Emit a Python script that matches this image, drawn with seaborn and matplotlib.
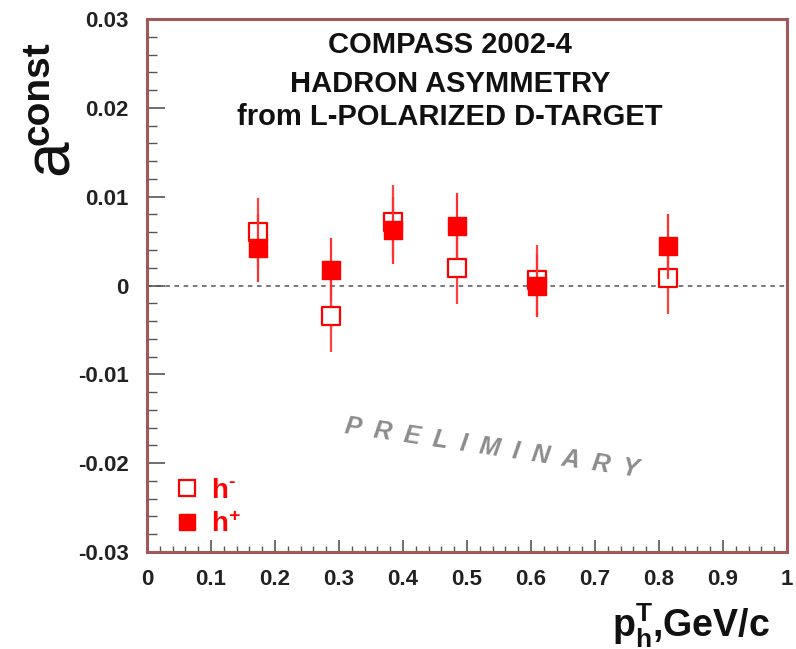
import matplotlib
matplotlib.use("Agg")
import matplotlib.pyplot as plt
from matplotlib.lines import Line2D
from matplotlib.ticker import MultipleLocator, FixedLocator
import seaborn as sns
import pandas as pd

# ---- data ----
pt_values = [0.174, 0.288, 0.384, 0.484, 0.610, 0.814]
h_minus = [0.0060, -0.0034, 0.0072, 0.0020, 0.0006, 0.0008]
h_minus_err = [0.0039, 0.0041, 0.0041, 0.0041, 0.0040, 0.0040]
h_plus = [0.0042, 0.0018, 0.0062, 0.0067, 0.0000, 0.0044]
h_plus_err = [0.0038, 0.0036, 0.0038, 0.0037, 0.0036, 0.0037]
x_ticks = [0, 0.1, 0.2, 0.3, 0.4, 0.5, 0.6, 0.7, 0.8, 0.9, 1]
x_ticklabels = ["0", "0.1", "0.2", "0.3", "0.4", "0.5", "0.6", "0.7", "0.8", "0.9", "1"]
y_ticks = [-0.03, -0.02, -0.01, 0, 0.01, 0.02, 0.03]
y_ticklabels = ["-0.03", "-0.02", "-0.01", "0", "0.01", "0.02", "0.03"]
title_lines = ["COMPASS 2002-4", "HADRON ASYMMETRY", "from L-POLARIZED D-TARGET"]

sns.set_theme(style="white")
plt.rcParams["font.family"] = ["Liberation Sans", "DejaVu Sans"]
plt.rcParams["mathtext.fontset"] = "custom"
plt.rcParams["mathtext.bf"] = "Liberation Sans:bold"
plt.rcParams["mathtext.rm"] = "Liberation Sans:bold"
plt.rcParams["mathtext.it"] = "Liberation Sans:bold"

RED = "#ff0000"
SPINE = "#a05858"
TICK = "#555555"

fig = plt.figure(figsize=(7.96, 6.49), dpi=100)
L, R, T, B = 147, 787, 19, 552
ax = fig.add_axes([L / 796, 1 - B / 649, (R - L) / 796, (B - T) / 649])

df_m = pd.DataFrame({"pt": pt_values, "a": h_minus, "err": h_minus_err})
df_p = pd.DataFrame({"pt": pt_values, "a": h_plus, "err": h_plus_err})

ax.axhline(0, color="#555555", lw=1.1, ls=(0, (3, 3)), zorder=1)

# h- (open)
ax.errorbar(df_m["pt"], df_m["a"], yerr=df_m["err"], fmt="none",
            ecolor="#ff4040", elinewidth=1.6, capsize=0, zorder=2)
sns.scatterplot(data=df_m, x="pt", y="a", ax=ax, marker="s", s=150,
                facecolor="white", edgecolor=RED, linewidth=1.6, zorder=3,
                legend=False)
# h+ (filled)
ax.errorbar(df_p["pt"], df_p["a"], yerr=df_p["err"], fmt="none",
            ecolor="#ff3030", elinewidth=1.6, capsize=0, zorder=4)
sns.scatterplot(data=df_p, x="pt", y="a", ax=ax, marker="s", s=150,
                color=RED, edgecolor=RED, linewidth=1.0, zorder=5,
                legend=False)

ax.set_xlim(0, 1)
ax.set_ylim(-0.03, 0.03)
ax.xaxis.set_major_locator(FixedLocator(x_ticks))
ax.set_xticklabels(x_ticklabels)
ax.yaxis.set_major_locator(FixedLocator(y_ticks))
ax.set_yticklabels(y_ticklabels)
ax.xaxis.set_minor_locator(MultipleLocator(0.02))
ax.yaxis.set_minor_locator(MultipleLocator(0.002))

ax.tick_params(axis="x", which="major", direction="in", length=9, width=1.2,
               color=TICK, pad=12, labelsize=16, top=False, bottom=True)
ax.tick_params(axis="x", which="minor", direction="in", length=4.5, width=1.0,
               color=TICK, top=False, bottom=True)
ax.tick_params(axis="y", which="major", direction="in", length=13, width=1.2,
               color=TICK, pad=13, labelsize=16, right=False, left=True)
ax.tick_params(axis="y", which="minor", direction="in", length=7, width=1.0,
               color=TICK, right=False, left=True)
for lab in ax.get_xticklabels() + ax.get_yticklabels():
    lab.set_fontweight("bold")
    lab.set_color("#222222")

for sp in ax.spines.values():
    sp.set_visible(True)
    sp.set_color(SPINE)
    sp.set_linewidth(2.2)

ax.set_xlabel("")
ax.set_ylabel("")

# title block
for txt, yf in zip(title_lines, [0.951, 0.878, 0.816]):
    ax.text(0.473, yf, txt, transform=ax.transAxes, ha="center", va="center",
            fontsize=21, fontweight="bold", color="#111111")

# preliminary stamp
ax.text(0.539, 0.195, "\u2002".join("PRELIMINARY"), transform=ax.transAxes,
        ha="center", va="center", rotation=-8.5, fontsize=18,
        fontweight="bold", style="italic", color="#8c8c8c")

# legend
handles = [
    Line2D([], [], marker="s", ls="none", markersize=12, markerfacecolor="white",
           markeredgecolor=RED, markeredgewidth=1.6),
    Line2D([], [], marker="s", ls="none", markersize=12, markerfacecolor=RED,
           markeredgecolor=RED),
]
leg = ax.legend(handles, [r"$\mathbf{h}^{\text{-}}$", r"$\mathbf{h}^{\mathbf{+}}$"],
                loc="lower left", bbox_to_anchor=(0.015, -0.005), frameon=False,
                fontsize=20, labelcolor=RED, handlelength=1.0,
                handletextpad=0.35, labelspacing=0.3, borderaxespad=0.2)

# y label: a^const
fig.text(51 / 796, 1 - 157 / 649, "a", rotation=90, ha="center", va="center",
         fontsize=46, color="#111111")
fig.text(38 / 796, 1 - 93 / 649, "const", rotation=90, ha="center", va="center",
         fontsize=28, fontweight="bold", color="#111111")

# x label
fig.text(770 / 796, 1 - 637 / 649, r"$\mathbf{p}_{\mathbf{h}}^{\mathbf{T}}$,GeV/c",
         ha="right", va="baseline", fontsize=27, fontweight="bold", color="#111111")

fig.savefig("out.png", dpi=100)
